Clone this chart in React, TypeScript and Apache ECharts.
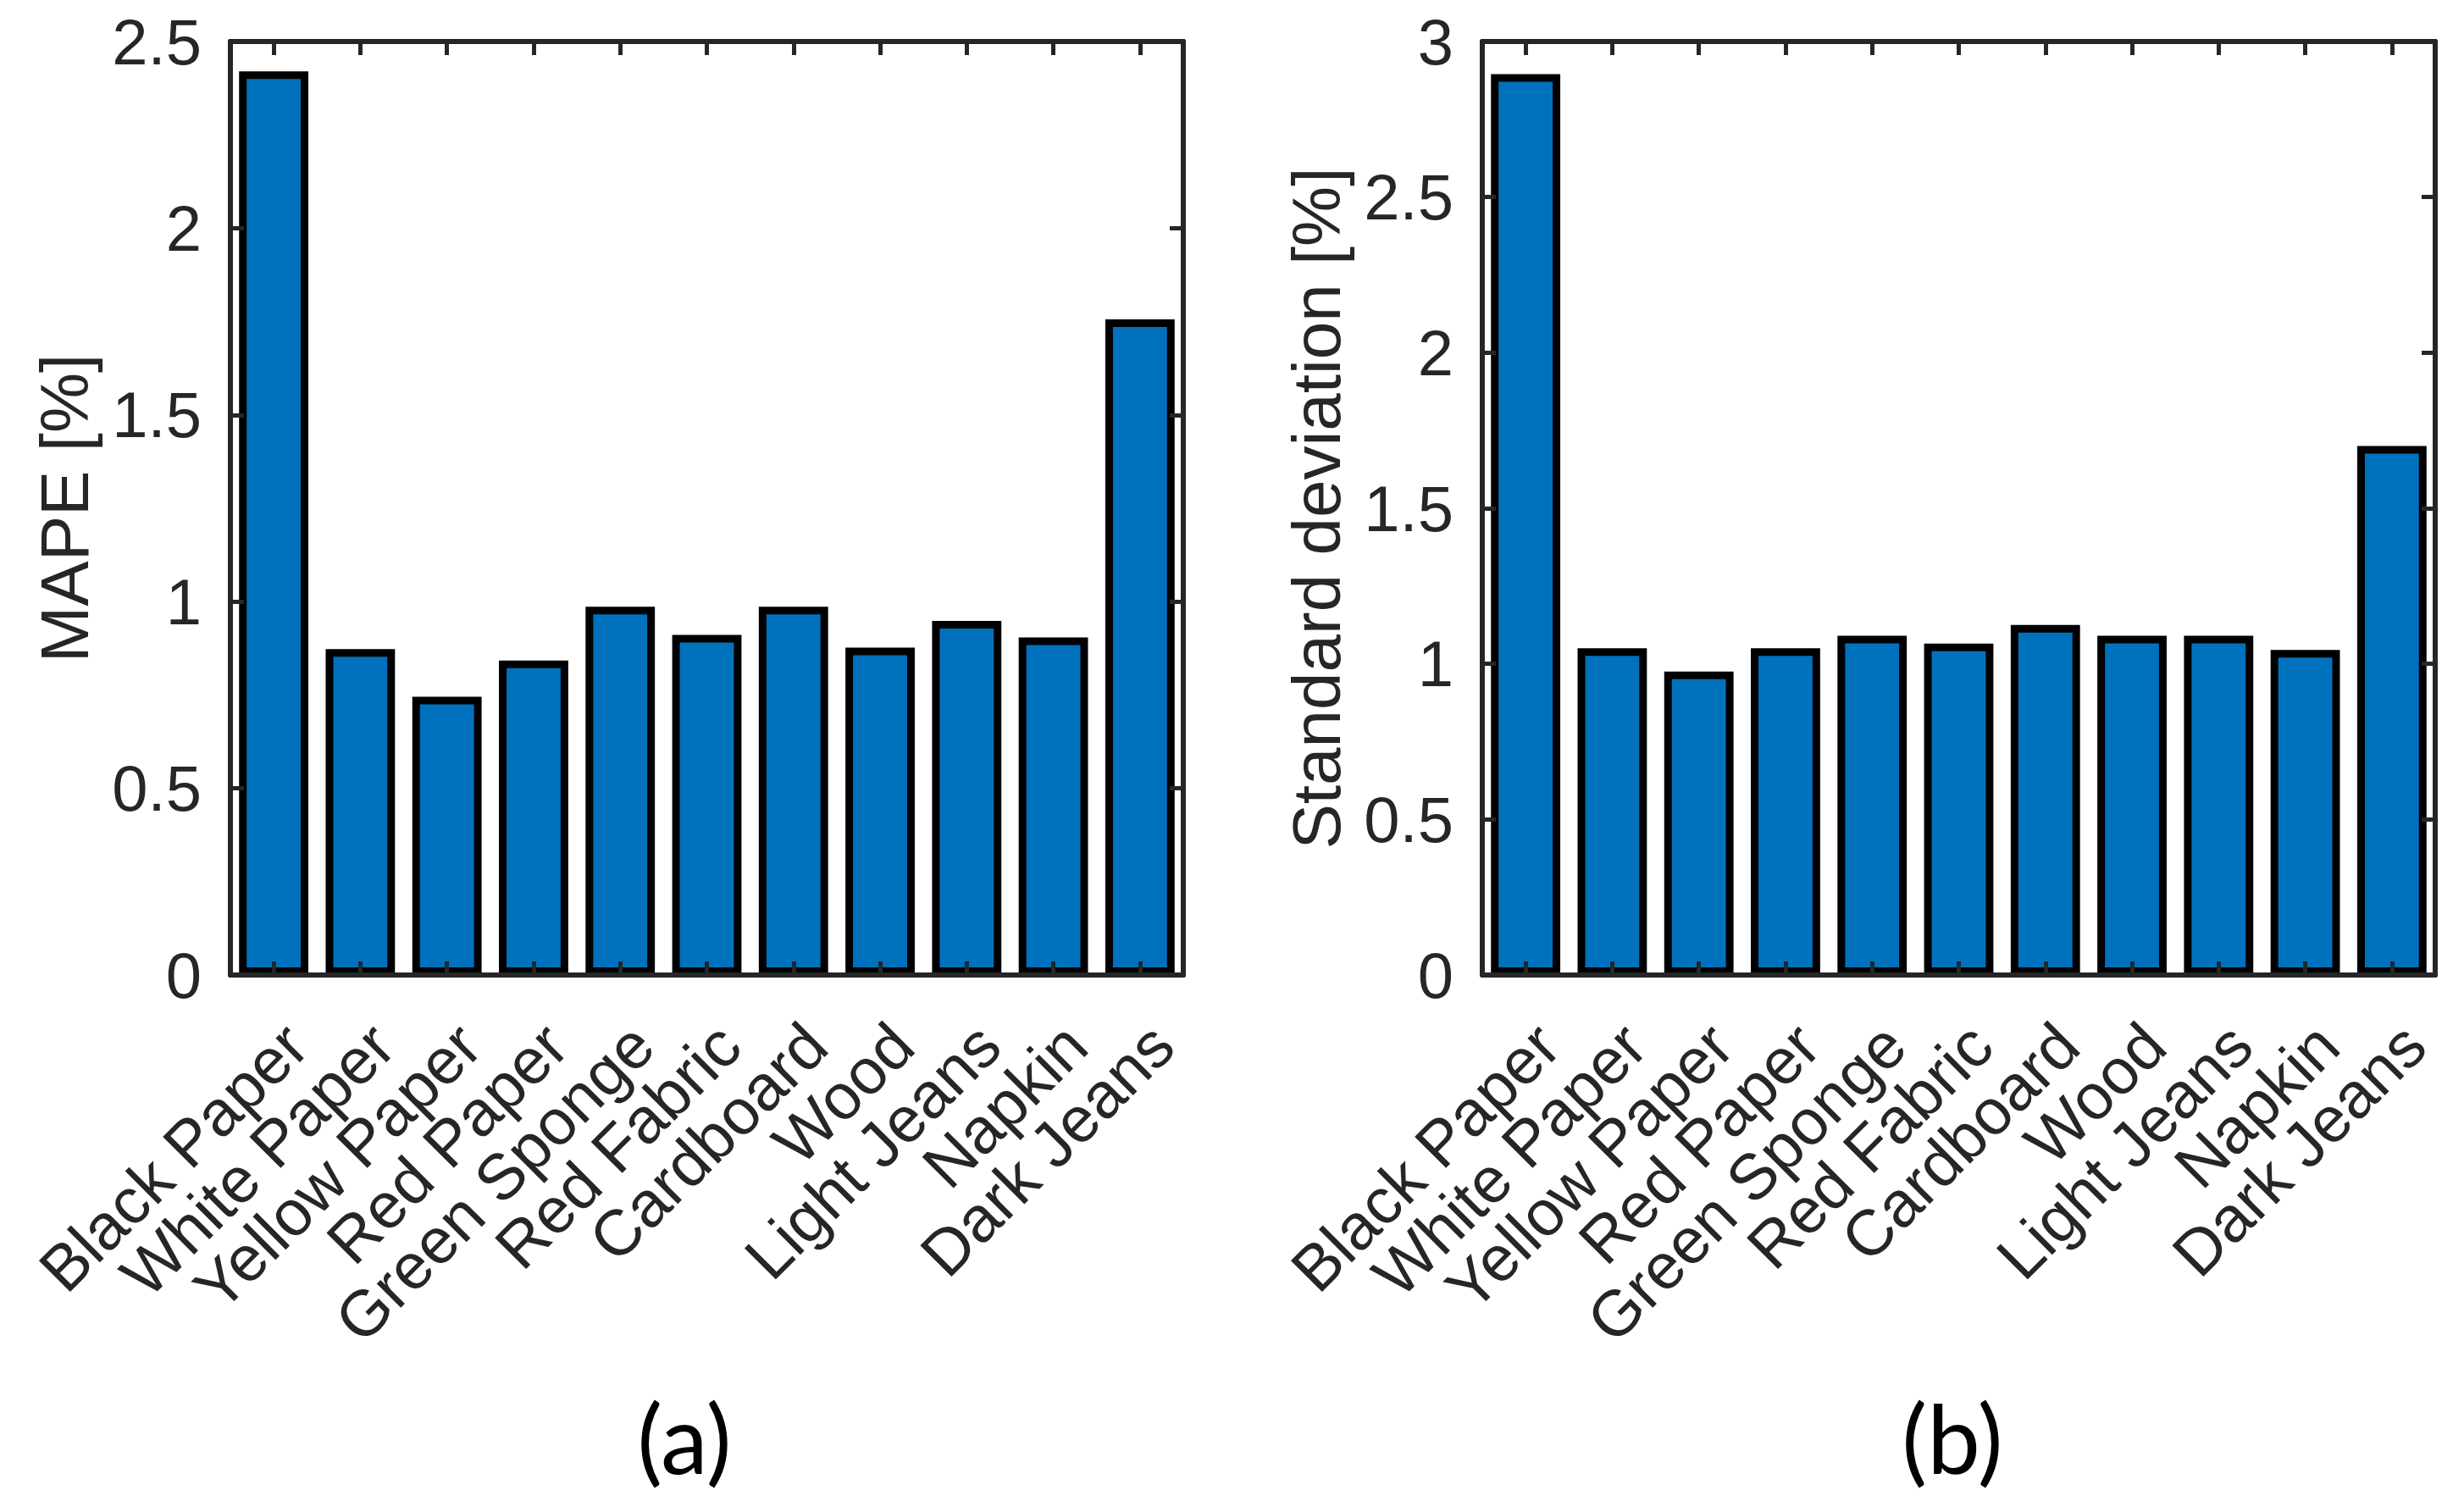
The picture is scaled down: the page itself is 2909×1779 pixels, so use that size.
import React, { useEffect, useRef } from "react";
import * as echarts from "echarts";

const categories = [
  "Black Paper",
  "White Paper",
  "Yellow Paper",
  "Red Paper",
  "Green Sponge",
  "Red Fabric",
  "Cardboard",
  "Wood",
  "Light Jeans",
  "Napkin",
  "Dark Jeans",
];
const mapeValues = [2.42, 0.873, 0.745, 0.842, 0.986, 0.911, 0.986, 0.877, 0.948, 0.904, 1.756];
const stdValues = [2.895, 1.05, 0.975, 1.05, 1.09, 1.065, 1.125, 1.09, 1.09, 1.045, 1.7];
const mapeAxis = { min: 0, max: 2.5, interval: 0.5, name: "MAPE [%]" };
const stdAxis = { min: 0, max: 3, interval: 0.5, name: "Standard deviation [%]" };
const panelLabels = ["(a)", "(b)"];

const FONT = "'Liberation Sans', Arial, Helvetica, sans-serif";
const AXIS_COLOR = "#262626";

export default function App() {
  const ref = useRef<HTMLDivElement>(null);

  useEffect(() => {
    document.body.style.margin = "0";
    if (!ref.current) return;
    const chart = echarts.init(ref.current, undefined, { renderer: "svg" });

    const grids = [
      { left: 272, top: 49, width: 1125, height: 1102 },
      { left: 1750, top: 49, width: 1125, height: 1102 },
    ];

    const lineStyle = () => ({ color: AXIS_COLOR, width: 6 });
    const tickStyle = () => ({ color: AXIS_COLOR, width: 5 });

    const xAxes: any[] = [];
    const yAxes: any[] = [];
    const axesDefs = [mapeAxis, stdAxis];
    grids.forEach((_, gi) => {
      xAxes.push({
        gridIndex: gi,
        type: "category",
        data: categories,
        position: "bottom",
        z: 10,
        axisLine: { show: true, onZero: false, lineStyle: lineStyle() },
        axisTick: { show: true, interval: 0, inside: true, length: 16, alignWithLabel: true, lineStyle: tickStyle() },
        axisLabel: {
          interval: 0,
          rotate: 45,
          margin: 44,
          verticalAlign: "top",
          lineHeight: 74,
          fontSize: 76,
          fontFamily: FONT,
          color: AXIS_COLOR,
        },
        splitLine: { show: false },
      });
      xAxes.push({
        gridIndex: gi,
        type: "category",
        data: categories,
        position: "top",
        z: 10,
        axisLine: { show: true, onZero: false, lineStyle: lineStyle() },
        axisTick: { show: true, interval: 0, inside: true, length: 16, alignWithLabel: true, lineStyle: tickStyle() },
        axisLabel: { show: false, interval: 0 },
        splitLine: { show: false },
      });
      const ad = axesDefs[gi];
      yAxes.push({
        gridIndex: gi,
        type: "value",
        min: ad.min,
        max: ad.max,
        interval: ad.interval,
        position: "left",
        z: 10,
        name: ad.name,
        nameLocation: "middle",
        nameGap: 156,
        nameTextStyle: { fontSize: 80, fontFamily: FONT, color: AXIS_COLOR },
        axisLine: { show: true, onZero: false, lineStyle: lineStyle() },
        axisTick: { show: true, inside: true, length: 16, lineStyle: tickStyle() },
        axisLabel: { margin: 34, fontSize: 76, fontFamily: FONT, color: AXIS_COLOR },
        splitLine: { show: false },
      });
      yAxes.push({
        gridIndex: gi,
        type: "value",
        min: ad.min,
        max: ad.max,
        interval: ad.interval,
        position: "right",
        z: 10,
        axisLine: { show: true, onZero: false, lineStyle: lineStyle() },
        axisTick: { show: true, inside: true, length: 16, lineStyle: tickStyle() },
        axisLabel: { show: false },
        splitLine: { show: false },
      });
    });

    const seriesData = [mapeValues, stdValues];
    const series = seriesData.map((d, gi) => ({
      type: "bar",
      xAxisIndex: gi * 2,
      yAxisIndex: gi * 2,
      data: d,
      barCategoryGap: "20%",
      z: 2,
      itemStyle: { color: "#0072BD", borderColor: "#000000", borderWidth: 9 },
    }));

    const panelX = [808, 2305];
    chart.setOption({
      animation: false,
      backgroundColor: "#ffffff",
      grid: grids,
      xAxis: xAxes,
      yAxis: yAxes,
      series,
      graphic: panelLabels.map((t, i) => ({
        type: "text",
        x: panelX[i],
        y: 1696,
        style: {
          text: t,
          fontSize: 112,
          fontFamily: "Lato, 'Open Sans', sans-serif",
          fill: "#000000",
          align: "center",
          verticalAlign: "middle",
        },
      })),
    });

    return () => chart.dispose();
  }, []);

  return <div ref={ref} style={{ width: 2909, height: 1779 }} />;
}
